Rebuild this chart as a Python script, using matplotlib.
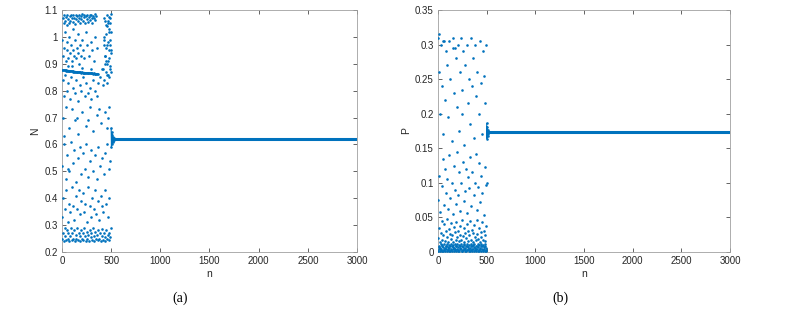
import matplotlib
matplotlib.use("Agg")
import matplotlib.pyplot as plt

# ---------------- Panel (a): N ----------------
a_top_n = [10,18,25,33,40,48,55,62,70,78,85,93,100,108,115,123,130,138,145,153,160,168,175,183,190,198,205,213,220,228,235,243,250,258,265,273,280,288,295,303,310,318,325,333,340,348,430,445,460,470,480,490,500]
a_top_N = [1.07,1.05,1.08,1.06,1.075,1.045,1.08,1.065,1.05,1.078,1.06,1.082,1.07,1.055,1.08,1.072,1.048,1.083,1.065,1.076,1.058,1.081,1.07,1.052,1.079,1.066,1.084,1.06,1.074,1.08,1.05,1.077,1.068,1.083,1.057,1.075,1.08,1.064,1.082,1.07,1.053,1.079,1.072,1.084,1.062,1.076,1.07,1.045,1.08,1.06,1.075,1.05,1.085]

a_hi_n = [5,14,22,30,38,47,55,63,72,80,90,98,107,115,124,132,140,150,158,167,176,185,193,202,215,228,240,255,270,290,305,322,340,360,430,442,455,468,480,495]
a_hi_N = [0.99,0.93,0.96,1.02,0.91,0.95,0.98,0.92,1.0,0.94,0.97,0.91,1.03,0.95,0.93,0.99,0.92,0.96,1.01,0.94,0.9,0.97,0.93,0.99,0.95,0.92,1.02,0.97,0.93,0.98,0.95,0.91,1.0,0.96,0.99,0.93,0.97,0.91,1.02,0.95]

a_col_n = [420,425,432,436,440,446,450,455,458,462,466,470,474,478,482,486,490,493,497,500,428,444,452,460,468,476,484,492,499,438]
a_col_N = [0.88,1.0,0.84,0.93,1.06,0.87,0.96,0.83,1.04,0.9,0.98,0.86,1.03,0.92,0.85,0.99,0.89,1.07,0.94,0.87,0.97,1.01,0.91,0.86,1.05,0.95,0.88,0.97,1.02,0.9]

a_line_n = [4,12,20,28,36,44,52,60,68,76,84,92,100,108,116,124,132,140,148,156,164,172,180,188,196,204,212,220,228,236,244,252,260,268,276,284,292,300,308,316,324,332,340,348,356,364]
a_line_N = [0.878,0.877,0.876,0.877,0.875,0.876,0.874,0.875,0.873,0.874,0.872,0.873,0.872,0.871,0.872,0.870,0.871,0.870,0.869,0.870,0.869,0.868,0.869,0.868,0.867,0.868,0.867,0.866,0.867,0.866,0.866,0.865,0.866,0.865,0.865,0.864,0.865,0.864,0.864,0.863,0.864,0.863,0.863,0.862,0.863,0.862]

a_c_n = [8,20,35,50,65,82,95,110,128,145,160,178,195,212,230,248,265,282,300,318,335,352,370,390,405,415,100,60,200,300]
a_c_N = [0.84,0.78,0.86,0.8,0.83,0.77,0.85,0.81,0.79,0.84,0.76,0.82,0.8,0.85,0.78,0.83,0.79,0.81,0.77,0.84,0.8,0.78,0.83,0.85,0.88,0.82,0.89,0.89,0.885,0.88]

a_d_n = [12,40,70,100,130,165,200,240,280,320,360,400,440,460,480,25,150,260,380,470]
a_d_N = [0.7,0.74,0.66,0.73,0.69,0.64,0.72,0.67,0.74,0.65,0.71,0.68,0.72,0.66,0.74,0.63,0.7,0.69,0.73,0.7]

a_e_n = [5,20,38,55,72,90,108,125,143,160,178,195,213,230,248,265,283,300,318,335,353,370,388,405,423,440,458,475,490,60]
a_e_N = [0.52,0.6,0.47,0.56,0.5,0.61,0.53,0.58,0.46,0.55,0.59,0.49,0.57,0.51,0.6,0.48,0.54,0.58,0.5,0.56,0.47,0.59,0.52,0.55,0.49,0.57,0.6,0.51,0.54,0.51]

a_f_n = [3,15,28,42,56,70,85,98,112,126,140,155,168,182,196,210,225,238,252,266,280,294,308,322,336,350,364,378,392,406,420,435,450,465,480]
a_f_N = [0.33,0.4,0.36,0.43,0.31,0.38,0.35,0.44,0.37,0.32,0.41,0.36,0.43,0.34,0.39,0.42,0.35,0.38,0.31,0.44,0.37,0.33,0.4,0.36,0.43,0.34,0.39,0.32,0.41,0.37,0.35,0.43,0.38,0.33,0.4]

a_bot_n = [2,10,18,26,34,42,50,58,66,74,82,90,98,106,114,122,130,138,146,154,162,170,178,186,194,202,210,218,226,234,242,250,258,266,274,282,290,298,306,314,322,330,338,346,354,362,370,378,386,394,402,410,418,426,434,442,450,458,466,474,482,490,498]
a_bot_N = [0.25,0.27,0.24,0.29,0.26,0.245,0.28,0.25,0.27,0.24,0.26,0.29,0.245,0.27,0.25,0.28,0.24,0.265,0.25,0.29,0.245,0.27,0.26,0.24,0.28,0.25,0.27,0.245,0.29,0.26,0.24,0.275,0.25,0.265,0.24,0.28,0.255,0.27,0.245,0.29,0.26,0.24,0.275,0.25,0.265,0.245,0.28,0.25,0.27,0.24,0.26,0.285,0.245,0.27,0.255,0.24,0.28,0.25,0.265,0.245,0.27,0.255,0.29]

a_conv_n = [500,503,506,509,512,515,518,521,524,527]
a_conv_N = [0.66,0.59,0.645,0.6,0.635,0.61,0.628,0.613,0.623,0.617]
a_steady_n = [510, 3000]
a_steady_N = [0.62, 0.62]

# ---------------- Panel (b): P ----------------
b_band1_n = [2,10,18,26,34,42,50,58,66,74,82,90,98,106,114,122,130,138,146,154,162,170,178,186,194,202,210,218,226,234,242,250,258,266,274,282,290,298,306,314,322,330,338,346,354,362,370,378,386,394,402,410,418,426,434,442,450,458,466,474,482,490,498]
b_band1_P = [0.002,0.004,0.001,0.003,0.005,0.002,0.001,0.004,0.003,0.002,0.005,0.001,0.003,0.004,0.002,0.001,0.005,0.003,0.002,0.004,0.001,0.003,0.005,0.002,0.004,0.001,0.003,0.002,0.005,0.004,0.001,0.002,0.003,0.005,0.004,0.001,0.002,0.003,0.004,0.005,0.002,0.001,0.003,0.004,0.002,0.005,0.001,0.003,0.002,0.004,0.005,0.001,0.003,0.002,0.004,0.001,0.005,0.003,0.002,0.004,0.001,0.003,0.002]
b_band2_n = [6,14,22,30,38,46,54,62,70,78,86,94,102,110,118,126,134,142,150,158,166,174,182,190,198,206,214,222,230,238,246,254,262,270,278,286,294,302,310,318,326,334,342,350,358,366,374,382,390,398,406,414,422,430,438,446,454,462,470,478,486,494]
b_band2_P = [0.007,0.009,0.006,0.011,0.008,0.010,0.007,0.012,0.006,0.009,0.008,0.011,0.007,0.010,0.006,0.009,0.012,0.008,0.007,0.010,0.006,0.011,0.009,0.008,0.012,0.007,0.010,0.006,0.009,0.011,0.008,0.007,0.010,0.012,0.006,0.009,0.008,0.011,0.007,0.010,0.006,0.012,0.009,0.008,0.010,0.007,0.011,0.006,0.009,0.008,0.012,0.007,0.010,0.006,0.011,0.009,0.008,0.010,0.007,0.012,0.009,0.006]

b_low_n = [5,13,21,30,38,46,55,63,71,80,88,96,105,113,121,130,138,146,155,163,171,180,188,196,205,213,221,230,238,246,255,263,271,280,288,296,305,313,321,330,338,346,355,363,371,380,388,396,405,413,421,430,438,446,455,463,471,480,488,496]
b_low_P = [0.02,0.035,0.015,0.028,0.045,0.018,0.025,0.04,0.016,0.03,0.022,0.048,0.014,0.033,0.026,0.019,0.042,0.024,0.015,0.036,0.029,0.017,0.044,0.021,0.031,0.016,0.038,0.025,0.018,0.047,0.023,0.014,0.034,0.027,0.02,0.041,0.016,0.03,0.024,0.045,0.018,0.032,0.015,0.028,0.039,0.021,0.017,0.046,0.026,0.019,0.035,0.015,0.029,0.022,0.043,0.018,0.031,0.024,0.016,0.038]

b_mid_n = [3,14,25,37,48,60,71,82,94,105,116,128,139,150,162,173,184,196,207,218,230,241,252,264,275,286,298,309,320,332,343,354,366,377,388,400,411,422,434,445,456,468,479,490,499]
b_mid_P = [0.075,0.11,0.058,0.095,0.135,0.068,0.12,0.085,0.105,0.062,0.14,0.078,0.1,0.055,0.125,0.09,0.07,0.145,0.082,0.115,0.06,0.1,0.13,0.074,0.088,0.12,0.057,0.108,0.092,0.138,0.066,0.116,0.083,0.1,0.142,0.061,0.094,0.128,0.072,0.11,0.086,0.054,0.123,0.097,0.1]

b_up_n = [2,10,20,30,40,52,62,72,85,95,105,118,128,140,150,160,172,182,195,205,215,228,238,250,260,272,282,295,305,318,328,340,350,362,372,385,395,405,418,428,440,450,462,472,482,492,8,48,150,250]
b_up_P = [0.31,0.26,0.2,0.3,0.24,0.17,0.305,0.22,0.29,0.27,0.195,0.305,0.25,0.16,0.31,0.23,0.295,0.28,0.21,0.3,0.175,0.26,0.31,0.235,0.29,0.155,0.27,0.3,0.215,0.25,0.185,0.31,0.24,0.28,0.165,0.3,0.225,0.26,0.2,0.305,0.245,0.17,0.29,0.255,0.215,0.3,0.315,0.305,0.295,0.2]

b_conv_n = [500,503,506,509,512,515,518]
b_conv_P = [0.186,0.164,0.181,0.168,0.177,0.171,0.174]
b_steady_n = [510, 3000]
b_steady_P = [0.173, 0.173]

# tick labels
a_yticks = [0.2,0.3,0.4,0.5,0.6,0.7,0.8,0.9,1.0,1.1]
a_yticklabels = ['0.2','0.3','0.4','0.5','0.6','0.7','0.8','0.9','1','1.1']
b_yticks = [0,0.05,0.1,0.15,0.2,0.25,0.3,0.35]
b_yticklabels = ['0','0.05','0.1','0.15','0.2','0.25','0.3','0.35']
xticks = [0,500,1000,1500,2000,2500,3000]
xticklabels = ['0','500','1000','1500','2000','2500','3000']

BLUE = '#0072BD'
plt.rcParams['font.family'] = ['Liberation Sans', 'DejaVu Sans']

fig = plt.figure(figsize=(8.04, 3.12), dpi=100)
axA = fig.add_axes([62/804, 60/312, 295/804, 242/312])
axB = fig.add_axes([438/804, 60/312, 292/804, 242/312])

def dots(ax, xs, ys):
    ax.scatter(xs, ys, s=3.5, color=BLUE, linewidths=0, zorder=3)

for xs, ys in [(a_top_n, a_top_N), (a_hi_n, a_hi_N), (a_col_n, a_col_N), (a_line_n, a_line_N),
               (a_c_n, a_c_N), (a_d_n, a_d_N), (a_e_n, a_e_N), (a_f_n, a_f_N),
               (a_bot_n, a_bot_N), (a_conv_n, a_conv_N)]:
    dots(axA, xs, ys)
axA.plot(a_line_n, a_line_N, color=BLUE, lw=1.2)
axA.plot(a_conv_n, a_conv_N, color=BLUE, lw=0.8)
axA.plot(a_steady_n, a_steady_N, color=BLUE, lw=2.2, solid_capstyle='butt')

for xs, ys in [(b_band1_n, b_band1_P), (b_band2_n, b_band2_P), (b_low_n, b_low_P),
               (b_mid_n, b_mid_P), (b_up_n, b_up_P), (b_conv_n, b_conv_P)]:
    dots(axB, xs, ys)
axB.plot(b_conv_n, b_conv_P, color=BLUE, lw=0.8)
axB.plot(b_steady_n, b_steady_P, color=BLUE, lw=2.2, solid_capstyle='butt')

for ax, yt, ytl, ylim, ylab in [(axA, a_yticks, a_yticklabels, (0.2, 1.1), 'N'),
                                 (axB, b_yticks, b_yticklabels, (0, 0.35), 'P')]:
    ax.set_xlim(0, 3000)
    ax.set_ylim(*ylim)
    ax.set_xticks(xticks)
    ax.set_xticklabels(xticklabels)
    ax.set_yticks(yt)
    ax.set_yticklabels(ytl)
    ax.tick_params(direction='in', length=3, width=0.5, colors='#262626',
                   labelsize=7, top=True, right=True, pad=3)
    for sp in ax.spines.values():
        sp.set_color('#a0a0a0')
        sp.set_linewidth(0.6)
    ax.set_xlabel('n', fontsize=7.5, color='#262626', labelpad=2)
    ax.set_ylabel(ylab, fontsize=7.5, color='#262626', labelpad=3)

fig.text(180/804, 1 - 298/312, '(a)', ha='center', va='center',
         fontsize=10, family=['Liberation Serif'])
fig.text(560/804, 1 - 298/312, '(b)', ha='center', va='center',
         fontsize=10, family=['Liberation Serif'])

fig.savefig('out.png', dpi=100)
